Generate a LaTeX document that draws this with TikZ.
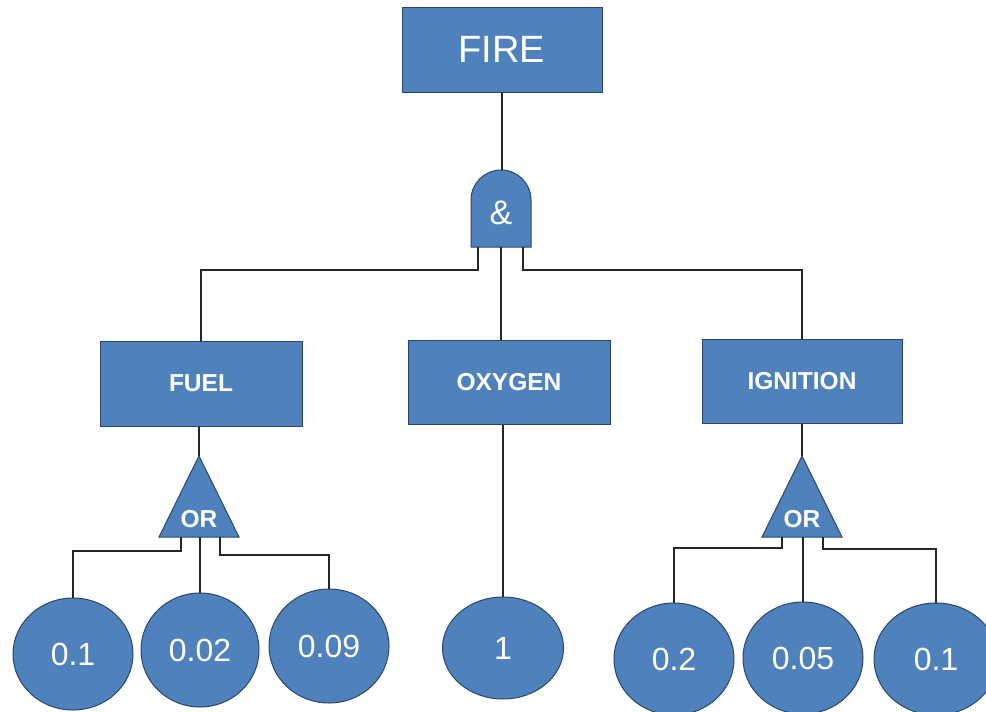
\documentclass[tikz,border=0pt]{standalone}
\usepackage{fontspec}
\setmainfont{Liberation Sans}
\usetikzlibrary{shapes.geometric}
\definecolor{gfill}{HTML}{4F81BD}
\definecolor{gdraw}{HTML}{2A476B}
\tikzset{
  box/.style={rectangle, fill=gfill, draw=gdraw, line width=1pt, text=white, inner sep=0pt},
  evt/.style={ellipse, fill=gfill, draw=gdraw, line width=1pt, text=white, inner sep=0pt,
    font=\fontsize{32}{34}\selectfont},
  gate/.style={fill=gfill, draw=gdraw, line width=1pt},
  gatelabel/.style={text=white, inner sep=0pt},
  conn/.style={draw=black!85, line width=1.1pt},
  boldlabel/.style={font=\bfseries\fontsize{24.5}{26}\selectfont}
}
\begin{document}
\begin{tikzpicture}[x=1pt,y=-1pt]
\useasboundingbox (0,0) rectangle (986,712);
\clip (0,0) rectangle (986,712);
\fill[white] (0,0) rectangle (986,712);

% top event
\node[box, minimum width=200pt, minimum height=85pt, font=\fontsize{38}{40}\selectfont] (fire) at (502,49.5) {FIRE};

% AND gate
\coordinate (andtop) at (501,170);
\coordinate (andL) at (478,247);
\coordinate (andM) at (501,247);
\coordinate (andR) at (523,247);
\path[gate] (471,247) -- (471,200) .. controls (471,183.4) and (484.4,170) .. (501,170)
  .. controls (517.6,170) and (531,183.4) .. (531,200) -- (531,247) -- cycle;
\node[gatelabel, font=\fontsize{34}{36}\selectfont] (andlbl) at (501,213) {\&};

% intermediate events
\node[box, boldlabel, minimum width=202pt, minimum height=85pt] (fuel) at (201,383.5) {FUEL};
\node[box, boldlabel, minimum width=202pt, minimum height=84pt] (oxygen) at (509,382) {OXYGEN};
\node[box, boldlabel, minimum width=200pt, minimum height=84pt] (ignition) at (802,381) {IGNITION};

% OR gates
\coordinate (orAtop) at (199,456);
\path[gate] (199,456) -- (239,537) -- (159,537) -- cycle;
\node[gatelabel, boldlabel] (orAlbl) at (199,519) {OR};
\coordinate (orAL) at (181,537);
\coordinate (orAM) at (200,537);
\coordinate (orAR) at (220,537);

\coordinate (orBtop) at (802,456);
\path[gate] (802,456) -- (842,537) -- (762,537) -- cycle;
\node[gatelabel, boldlabel] (orBlbl) at (802,519) {OR};
\coordinate (orBL) at (782,537);
\coordinate (orBM) at (803,537);
\coordinate (orBR) at (823,537);

% basic events
\node[evt, minimum width=120pt, minimum height=112pt] (c1) at (73,654) {0.1};
\node[evt, minimum width=118pt, minimum height=114pt] (c2) at (200,650) {0.02};
\node[evt, minimum width=120pt, minimum height=114pt] (c3) at (329,646) {0.09};
\node[evt, minimum width=121pt, minimum height=102pt] (c4) at (503,648) {1};
\node[evt, minimum width=120pt, minimum height=112pt] (c5) at (674,659) {0.2};
\node[evt, minimum width=120pt, minimum height=112pt] (c6) at (803,658) {0.05};
\node[evt, minimum width=124pt, minimum height=112pt] (c7) at (936,659) {0.1};

% connectors
\draw[conn] (fire.south) -- (fire.south |- andtop);
\draw[conn] (andL) -- ++(0,23) -| (fuel.north);
\draw[conn] (andM) -- (andM |- oxygen.north);
\draw[conn] (andR) -- ++(0,23) -| (ignition.north);

\draw[conn] (fuel.south -| orAtop) -- (orAtop);
\draw[conn] (orAL) -- ++(0,14) -| (c1.north);
\draw[conn] (orAM) -- (c2.north);
\draw[conn] (orAR) -- ++(0,18) -| (c3.north);

\draw[conn] (c4.north |- oxygen.south) -- (c4.north);

\draw[conn] (ignition.south) -- (orBtop);
\draw[conn] (orBL) -- ++(0,11) -| (c5.north);
\draw[conn] (orBM) -- (c6.north);
\draw[conn] (orBR) -- ++(0,12) -| (c7.north);
\end{tikzpicture}
\end{document}
